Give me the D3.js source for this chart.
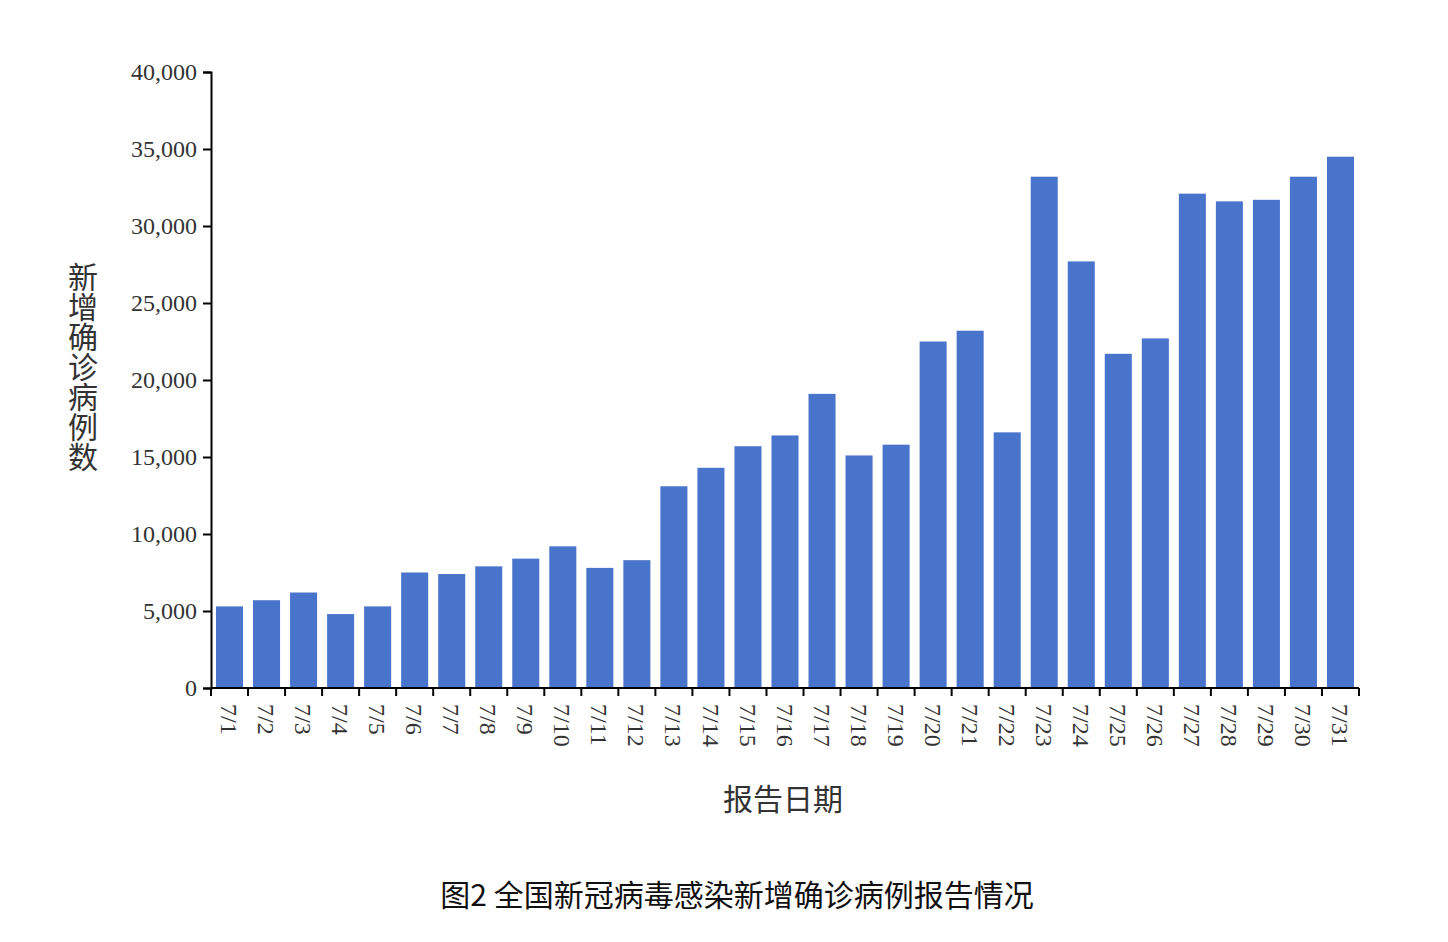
<!DOCTYPE html>
<html><head><meta charset="utf-8">
<script src="https://cdn.jsdelivr.net/npm/d3@7"></script>
<style>body{margin:0;background:#fff}</style>
</head><body>
<svg id="chart" width="1448" height="942"></svg>
<script>
const dates = ["7/1","7/2","7/3","7/4","7/5","7/6","7/7","7/8","7/9","7/10","7/11","7/12","7/13","7/14","7/15","7/16","7/17","7/18","7/19","7/20","7/21","7/22","7/23","7/24","7/25","7/26","7/27","7/28","7/29","7/30","7/31"]
const newCases = [5300,5700,6200,4800,5300,7500,7400,7900,8400,9200,7800,8300,13100,14300,15700,16400,19100,15100,15800,22500,23200,16600,33200,27700,21700,22700,32100,31600,31700,33200,34500]
const yTicks = [0,5000,10000,15000,20000,25000,30000,35000,40000]

const svg = d3.select("#chart")
const plotLeft = 211, plotRight = 1359, plotTop = 72, plotBottom = 688
const tickFont = "'Liberation Serif', serif"

const x = d3.scaleBand().domain(dates).range([plotLeft, plotRight]).paddingInner(0.27).paddingOuter(0.135)
const y = d3.scaleLinear().domain([0, 40000]).range([plotBottom, plotTop])

svg.append("g").selectAll("rect").data(newCases).join("rect")
	.attr("x", (d, i) => x(dates[i]))
	.attr("y", d => y(d))
	.attr("width", x.bandwidth())
	.attr("height", d => plotBottom - y(d))
	.attr("fill", "#4874cb")

// y axis
const yAxis = svg.append("g").attr("transform", `translate(${plotLeft},0)`)
	.call(d3.axisLeft(y).tickValues(yTicks).tickSizeOuter(0).tickSize(8).tickPadding(6))
yAxis.selectAll("text").style("font-family", tickFont).style("font-size", "24px").attr("fill", "#333")
yAxis.selectAll("line,path").attr("stroke", "#000").attr("stroke-width", 2)

// x axis, ticks on band boundaries
const xg = svg.append("g")
xg.append("line").attr("x1", plotLeft).attr("x2", plotRight).attr("y1", plotBottom).attr("y2", plotBottom).attr("stroke", "#000").attr("stroke-width", 2)
d3.range(dates.length + 1).forEach(i => {
	const px = plotLeft + i * (plotRight - plotLeft) / dates.length
	xg.append("line").attr("x1", px).attr("x2", px).attr("y1", plotBottom).attr("y2", plotBottom + 8).attr("stroke", "#000").attr("stroke-width", 2)
})
xg.selectAll("text").data(dates).join("text")
	.attr("transform", d => `translate(${x(d) + x.bandwidth() / 2},${plotBottom + 16}) rotate(90)`)
	.attr("dy", "0.35em")
	.style("font-family", tickFont).style("font-size", "24px").attr("fill", "#333")
	.text(d => d)

// titles
svg.append("text").attr("x", 83).attr("y", 262)
	.style("writing-mode", "vertical-rl")
	.style("font-family", "'Noto Sans CJK SC'").style("font-size", "30px").attr("fill", "#333")
	.text("新增确诊病例数")
svg.append("text").attr("x", 783).attr("y", 810).attr("text-anchor", "middle")
	.style("font-family", "'Noto Sans CJK SC'").style("font-size", "30px").attr("fill", "#333").text("报告日期")
svg.append("text").attr("x", 737).attr("y", 906).attr("text-anchor", "middle")
	.style("font-family", "'Noto Sans CJK SC'").style("font-size", "30px").attr("fill", "#111").text("图2 全国新冠病毒感染新增确诊病例报告情况")
</script>
</body></html>
